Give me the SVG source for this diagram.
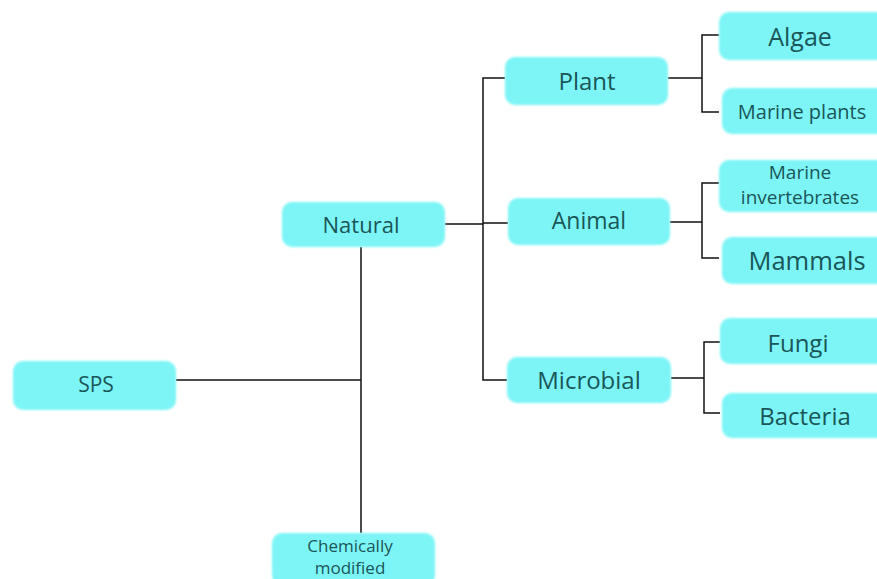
<svg xmlns="http://www.w3.org/2000/svg" width="877" height="579" viewBox="0 0 877 579">
<defs>
<filter id="soft" x="-10%" y="-20%" width="120%" height="140%"><feGaussianBlur stdDeviation="1.2"/></filter>
</defs>
<style>
.box{fill:#7df5f7;filter:url(#soft)}
.t{font-family:"Open Sans","DejaVu Sans",sans-serif;fill:#1a5657;text-anchor:middle;dominant-baseline:central}
.c{stroke:#111;stroke-width:1.5;fill:none}
</style>
<rect width="877" height="579" fill="#ffffff"/>
<g id="connectors">
<path class="c" d="M176 380H361M361 247V533"/>
<path class="c" d="M445 224H483M505 78H483V380H507M483 223H508"/>
<path class="c" d="M668 78H702M719 35H702V112H719"/>
<path class="c" d="M670 222H702M719 183H702V258H719"/>
<path class="c" d="M671 378H704M720 342H704V413H720"/>
</g>
<g id="sps"><rect class="box" x="13" y="361" width="163" height="49" rx="10"/><text class="t" x="96" y="384" font-size="21">SPS</text></g>
<g id="natural"><rect class="box" x="282" y="202" width="163" height="45" rx="10"/><text class="t" x="361" y="224" font-size="22">Natural</text></g>
<g id="chem"><rect class="box" x="272" y="533" width="163" height="52" rx="10"/><text class="t" x="350" y="545" font-size="17">Chemically</text><text class="t" x="350" y="567" font-size="17">modified</text></g>
<g id="plant"><rect class="box" x="505" y="57" width="163" height="48" rx="10"/><text class="t" x="587" y="80" font-size="24">Plant</text></g>
<g id="animal"><rect class="box" x="508" y="198" width="162" height="47" rx="10"/><text class="t" x="589" y="220" font-size="23">Animal</text></g>
<g id="microbial"><rect class="box" x="507" y="357" width="164" height="46" rx="10"/><text class="t" x="589" y="379" font-size="24">Microbial</text></g>
<g id="algae"><rect class="box" x="719" y="12" width="170" height="48" rx="10"/><text class="t" x="800" y="36" font-size="25">Algae</text></g>
<g id="marineplants"><rect class="box" x="722" y="88" width="167" height="46" rx="10"/><text class="t" x="802" y="111" font-size="20">Marine plants</text></g>
<g id="marineinv"><rect class="box" x="719" y="160" width="170" height="52" rx="10"/><text class="t" x="800" y="172" font-size="19">Marine</text><text class="t" x="800" y="197" font-size="19">invertebrates</text></g>
<g id="mammals"><rect class="box" x="722" y="237" width="167" height="47" rx="10"/><text class="t" x="807" y="260" font-size="25.5">Mammals</text></g>
<g id="fungi"><rect class="box" x="720" y="318" width="169" height="46" rx="10"/><text class="t" x="798" y="342" font-size="24">Fungi</text></g>
<g id="bacteria"><rect class="box" x="722" y="393" width="167" height="45" rx="10"/><text class="t" x="805" y="415" font-size="24">Bacteria</text></g>
</svg>
